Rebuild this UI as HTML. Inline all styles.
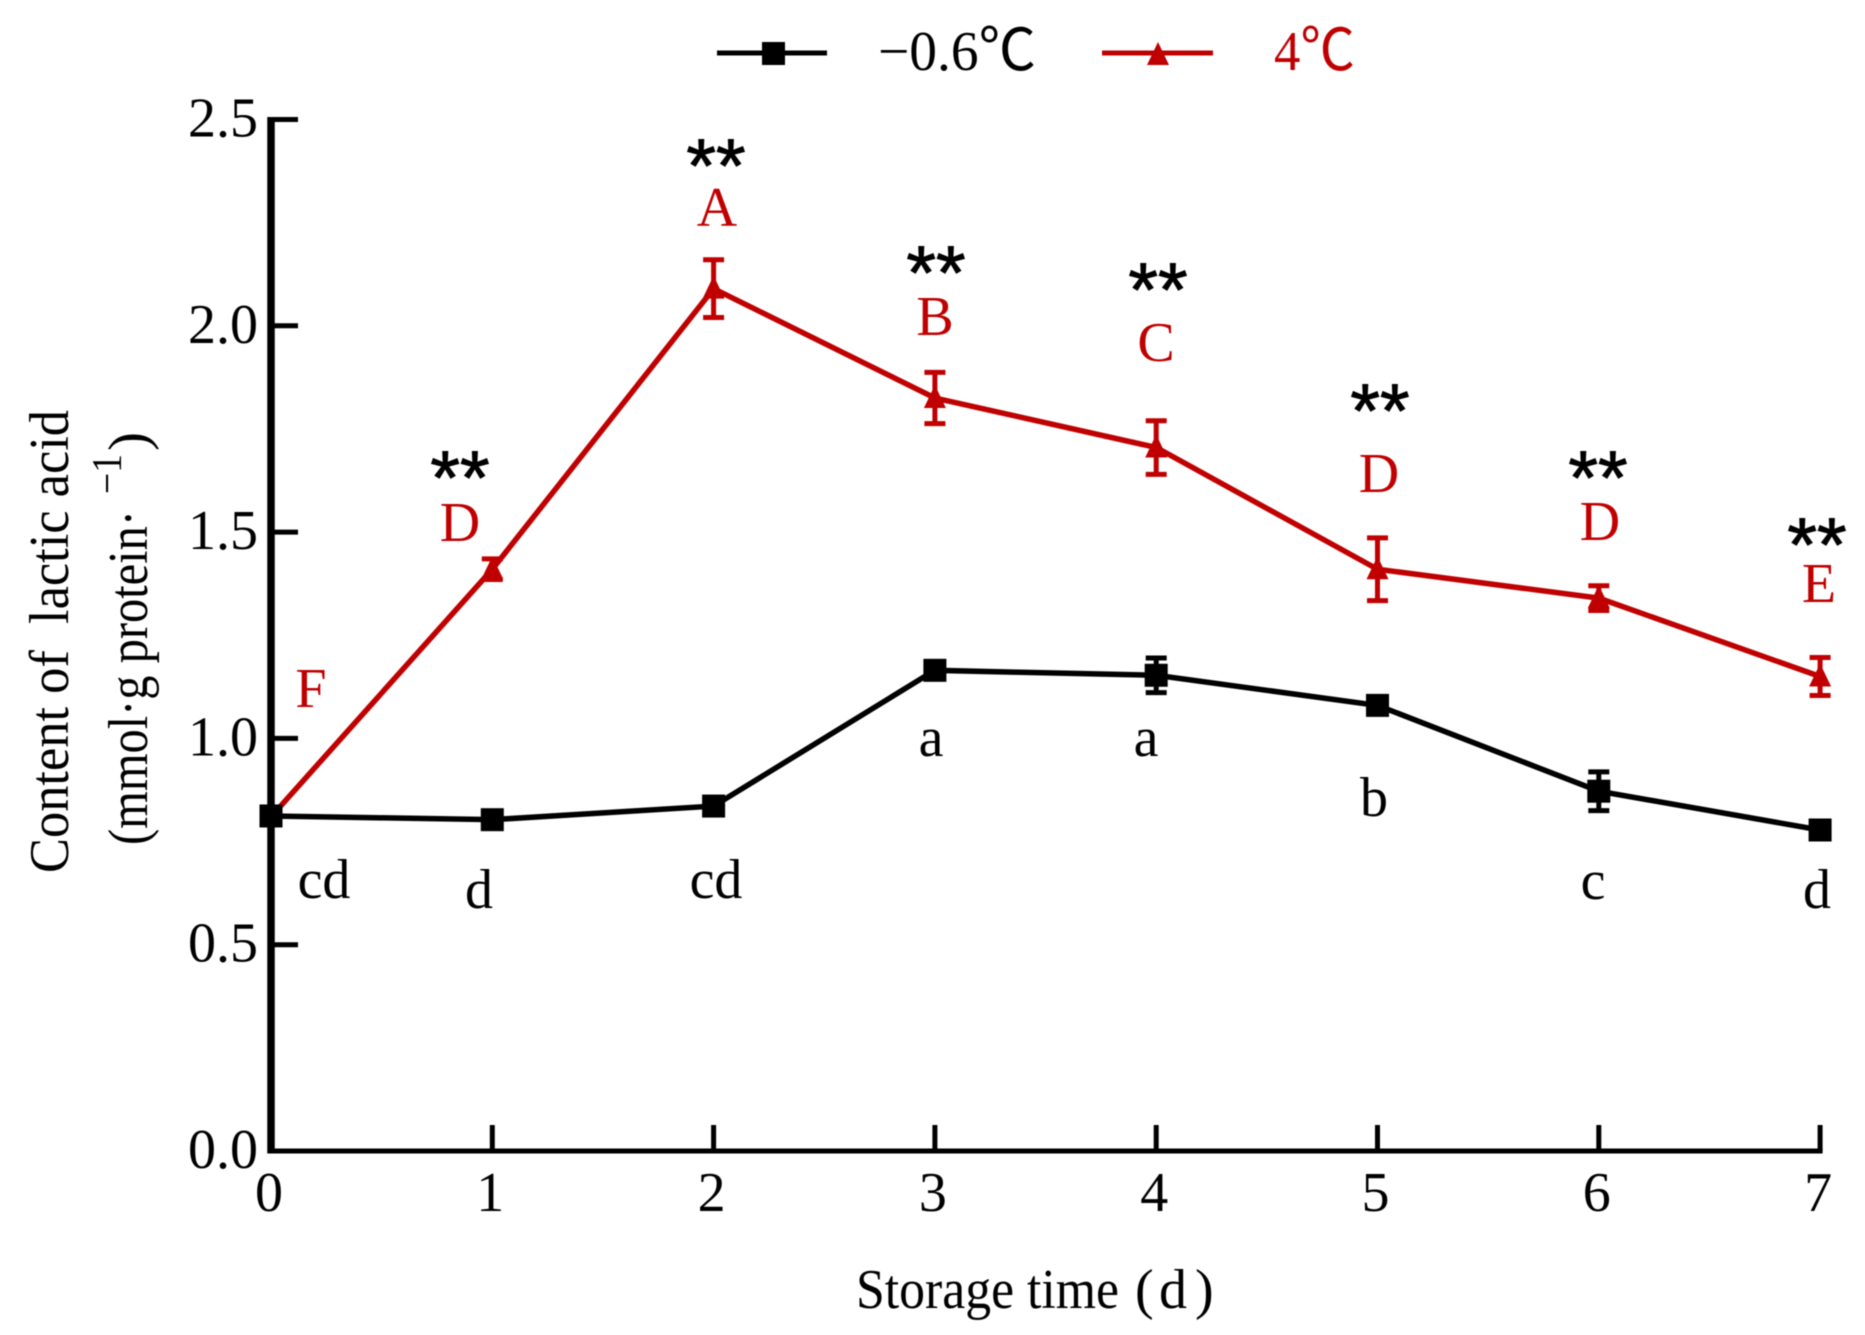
<!DOCTYPE html>
<html lang="en">
<head>
<meta charset="utf-8">
<title>Content of lactic acid during storage</title>
<style>
html,body{margin:0;padding:0;background:#fff;}
svg{display:block;filter:blur(0.5px);}
text{font-family:"Liberation Serif","Noto Serif CJK SC",serif;font-size:56px;fill:#000;}
.red{fill:#c00000;}
.stars{font-family:"Liberation Sans",sans-serif;font-size:76px;text-anchor:middle;stroke:#000;stroke-width:1px;}
.mid{text-anchor:middle;}
.deg{font-family:"Noto Sans CJK SC",sans-serif;font-size:58px;}
</style>
</head>
<body>
<svg id="chart" xmlns="http://www.w3.org/2000/svg" width="1865" height="1335" viewBox="0 0 1865 1335">
  <rect x="0" y="0" width="1865" height="1335" fill="#ffffff"/>

  <g id="legend">
    <g>
      <line x1="717" y1="53" x2="827" y2="53" stroke="#000" stroke-width="5"/>
      <rect x="762" y="42" width="23" height="23" fill="#000"/>
      <text x="878" y="70" textLength="158" lengthAdjust="spacingAndGlyphs">−0.6<tspan class="deg">℃</tspan></text>
    </g>
    <g>
      <line x1="1102" y1="53" x2="1213" y2="53" stroke="#c00000" stroke-width="5"/>
      <polygon points="1158,42 1169,65 1147,65" fill="#c00000"/>
      <text class="red" x="1274" y="70" textLength="81" lengthAdjust="spacingAndGlyphs">4<tspan class="deg red">℃</tspan></text>
    </g>
  </g>

  <g id="series-layer"></g>
  <g id="axis-layer"></g>

  <g>
    <text transform="translate(68 873) rotate(-90)" textLength="463" lengthAdjust="spacingAndGlyphs">Content of&#160; lactic acid</text>
    <text transform="translate(147 845) rotate(-90)" textLength="335" lengthAdjust="spacingAndGlyphs">(mmol·g protein·</text>
    <text style="font-size:42px" transform="translate(121 494) rotate(-90)" textLength="40" lengthAdjust="spacingAndGlyphs">−1</text>
    <text transform="translate(147 451) rotate(-90)" textLength="19" lengthAdjust="spacingAndGlyphs">)</text>
  </g>
  <g>
    <text x="856" y="1308" textLength="263" lengthAdjust="spacingAndGlyphs">Storage time</text>
    <text x="1135" y="1308">(</text>
    <text x="1159" y="1308">d</text>
    <text x="1195" y="1308">)</text>
  </g>

  <g>
    <text class="red mid" x="311" y="707">F</text>
    <text class="red mid" x="460" y="541">D</text>
    <text class="red mid" x="717" y="226">A</text>
    <text class="red mid" x="935" y="335">B</text>
    <text class="red mid" x="1156" y="361">C</text>
    <text class="red mid" x="1379" y="492">D</text>
    <text class="red mid" x="1600" y="540">D</text>
    <text class="red mid" x="1819" y="602">E</text>
  </g>
  <g>
    <text class="mid" x="324" y="898">cd</text>
    <text class="mid" x="479" y="908">d</text>
    <text class="mid" x="716" y="898">cd</text>
    <text class="mid" x="931" y="756">a</text>
    <text class="mid" x="1146" y="756">a</text>
    <text class="mid" x="1374" y="816">b</text>
    <text class="mid" x="1593" y="899">c</text>
    <text class="mid" x="1817" y="908">d</text>
  </g>
  <g>
    <text class="stars" x="460" y="504">**</text>
    <text class="stars" x="716" y="192">**</text>
    <text class="stars" x="936" y="299">**</text>
    <text class="stars" x="1158" y="316">**</text>
    <text class="stars" x="1380" y="437">**</text>
    <text class="stars" x="1598" y="504">**</text>
    <text class="stars" x="1817" y="571">**</text>
  </g>
</svg>

<script>
const days = [0, 1, 2, 3, 4, 5, 6, 7];
const yTickValues = [0, 0.5, 1, 1.5, 2, 2.5];
const yTickLabels = ['0.0', '0.5', '1.0', '1.5', '2.0', '2.5'];
const xTickLabels = ['0', '1', '2', '3', '4', '5', '6', '7'];
const coldValues = [0.812, 0.803, 0.836, 1.165, 1.153, 1.08, 0.872, 0.778];
const coldErrors = [0.015, 0.012, 0.012, 0.02, 0.042, 0.02, 0.047, 0.012];
const warmValues = [0.81, 1.41, 2.09, 1.825, 1.705, 1.41, 1.34, 1.15];
const warmErrors = [0.012, 0.025, 0.07, 0.062, 0.065, 0.076, 0.03, 0.046];

const SVG_NS = 'http://www.w3.org/2000/svg';
const RED = '#c00000';
const BLACK = '#000000';
const xScale = d => 271 + d * 221.3;
const yScale = v => 1151 - v * 412.6;

function make(tag, parent) {
  const el = document.createElementNS(SVG_NS, tag);
  parent.appendChild(el);
  return el;
}
function setLine(el, x1, y1, x2, y2, color, width) {
  el.setAttribute('x1', x1);
  el.setAttribute('y1', y1);
  el.setAttribute('x2', x2);
  el.setAttribute('y2', y2);
  el.setAttribute('stroke', color);
  el.setAttribute('stroke-width', width);
}

const axisLayer = document.getElementById('axis-layer');
const seriesLayer = document.getElementById('series-layer');

function drawSeries(values, errors, color, marker, key) {
  const g = make('g', seriesLayer);
  
  

  const path = make('polyline', g);
  
  
  path.setAttribute('fill', 'none');
  path.setAttribute('stroke', color);
  path.setAttribute('stroke-width', '5.5');
  path.setAttribute('points', values.map((v, i) => xScale(days[i]) + ',' + yScale(v)).join(' '));

  values.forEach((v, i) => {
    const x = xScale(days[i]);
    const y = yScale(v);
    const top = yScale(v + errors[i]);
    const bottom = yScale(v - errors[i]);

    const stem = make('line', g);
    
    
    setLine(stem, x, top, x, bottom, color, 5);

    const capTop = make('line', g);
    
    
    setLine(capTop, x - 10.5, top, x + 10.5, top, color, 5);

    const capBottom = make('line', g);
    
    
    setLine(capBottom, x - 10.5, bottom, x + 10.5, bottom, color, 5);

    if (marker === 'square') {
      const sq = make('rect', g);
      
      
      sq.setAttribute('x', x - 11.5);
      sq.setAttribute('y', y - 11.5);
      sq.setAttribute('width', 23);
      sq.setAttribute('height', 23);
      sq.setAttribute('fill', color);
    } else {
      const tri = make('polygon', g);
      
      
      tri.setAttribute('points', [x, y - 13, x + 11, y + 10, x - 11, y + 10].join(','));
      tri.setAttribute('fill', color);
    }
  });
}

drawSeries(warmValues, warmErrors, RED, 'triangle', '4c');
drawSeries(coldValues, coldErrors, BLACK, 'square', 'minus-0-6c');

const yAxis = make('line', axisLayer);


setLine(yAxis, xScale(0), yScale(2.5) - 2.5, xScale(0), yScale(0) + 2.5, BLACK, 7.5);

const xAxis = make('line', axisLayer);


setLine(xAxis, xScale(0), yScale(0), xScale(7) + 2.5, yScale(0), BLACK, 5);

yTickValues.forEach((v, i) => {
  if (v > 0) {
    const tick = make('line', axisLayer);
    
    
    setLine(tick, xScale(0), yScale(v), xScale(0) + 27, yScale(v), BLACK, 5);
  }
  const label = make('text', axisLayer);
  
  
  label.setAttribute('x', xScale(0) - 13);
  label.setAttribute('y', yScale(v) + 17);
  label.setAttribute('text-anchor', 'end');
  label.textContent = yTickLabels[i];
});

days.forEach((d, i) => {
  if (d > 0) {
    const tick = make('line', axisLayer);
    
    
    setLine(tick, xScale(d), yScale(0), xScale(d), yScale(0) - 26, BLACK, 5);
  }
  const label = make('text', axisLayer);
  
  
  label.setAttribute('x', xScale(d) - 2);
  label.setAttribute('y', yScale(0) + 60);
  label.setAttribute('text-anchor', 'middle');
  label.textContent = xTickLabels[i];
});
</script>
</body>
</html>
